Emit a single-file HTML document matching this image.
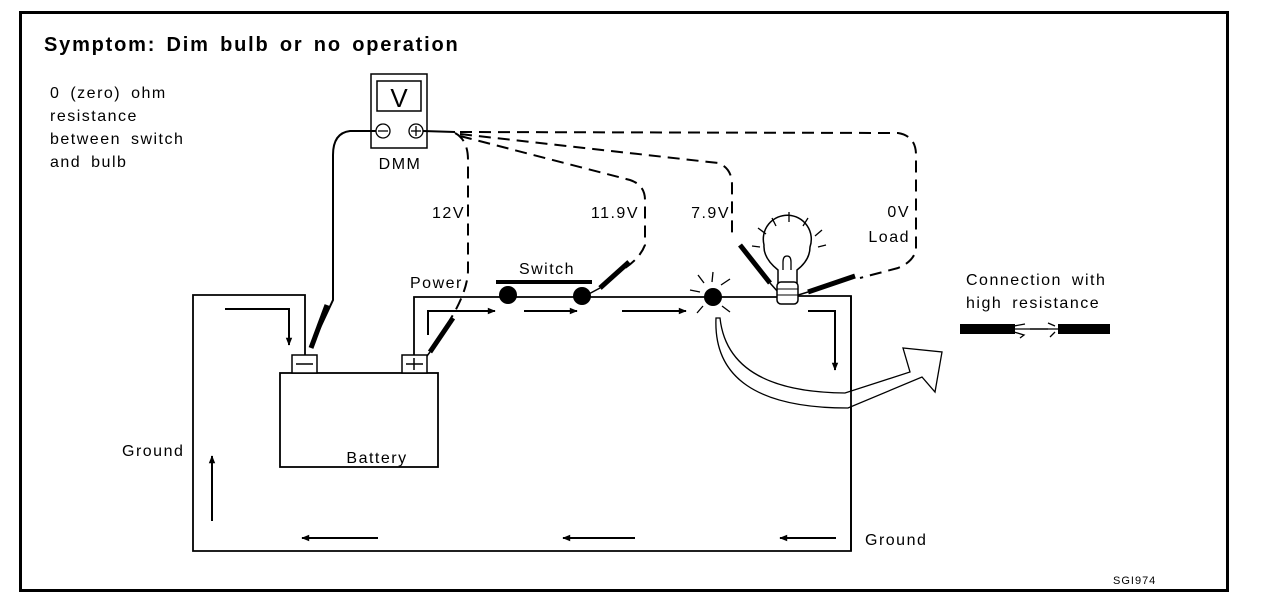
<!DOCTYPE html>
<html><head><meta charset="utf-8"><style>
html,body{margin:0;padding:0;background:#fff}
svg{display:block}
text{font-family:"Liberation Sans",Arial,sans-serif;fill:#000;font-size:16px;letter-spacing:1.5px;word-spacing:4px}
</style></head><body>
<svg width="1280" height="604" viewBox="0 0 1280 604" xmlns="http://www.w3.org/2000/svg">
<defs>
<marker id="ah" viewBox="0 0 10 10" refX="9" refY="5" markerWidth="10" markerHeight="8" orient="auto" markerUnits="userSpaceOnUse"><path d="M0,1 L10,5 L0,9 Z" fill="#000"/></marker>
</defs>
<rect x="20.5" y="12.5" width="1207" height="578" fill="none" stroke="#000" stroke-width="3"/>
<text x="44" y="51" style="font-size:20px;letter-spacing:1.8px;word-spacing:3px" font-weight="bold">Symptom: Dim bulb or no operation</text>
<text x="50" y="98">0 (zero) ohm</text>
<text x="50" y="121">resistance</text>
<text x="50" y="144">between switch</text>
<text x="50" y="167">and bulb</text>

<!-- DMM -->
<rect x="371" y="74" width="56" height="74" fill="#fff" stroke="#000" stroke-width="1.5"/>
<rect x="377" y="81" width="44" height="30" fill="none" stroke="#000" stroke-width="1.5"/>
<text x="399" y="107" style="font-size:26px;letter-spacing:0" text-anchor="middle">V</text>
<circle cx="383" cy="131" r="7" fill="none" stroke="#000" stroke-width="1.3"/>
<line x1="378" y1="131" x2="388" y2="131" stroke="#000" stroke-width="1.3"/>
<circle cx="416" cy="131" r="7" fill="none" stroke="#000" stroke-width="1.3"/>
<line x1="411" y1="131" x2="421" y2="131" stroke="#000" stroke-width="1.3"/>
<line x1="416" y1="126" x2="416" y2="136" stroke="#000" stroke-width="1.3"/>
<text x="400" y="169" text-anchor="middle">DMM</text>

<!-- negative lead -->
<path d="M376,131 L350,131 Q333,133 333,155 L333,300 L312,345" fill="none" stroke="#000" stroke-width="2"/>
<path d="M327,305 L311,348" stroke="#000" stroke-width="5"/>
<!-- positive leads -->
<path d="M423,131 L455,132" stroke="#000" stroke-width="2"/>
<g fill="none" stroke="#000" stroke-width="2" stroke-dasharray="12,7">
<path d="M455,133 Q468,140 468,160 L468,270 Q468,290 450,320"/>
<path d="M460,136 L630,180 Q645,185 645,200 L645,245 Q640,258 625,268"/>
<path d="M460,134 L718,163 Q732,168 732,185 L732,238"/>
<path d="M460,132 L898,133 Q916,136 916,155 L916,250 Q913,262 898,268 L860,278"/>
</g>
<path d="M453,318 L430,352" stroke="#000" stroke-width="5"/>
<path d="M629,262 L600,288" stroke="#000" stroke-width="5"/>
<path d="M740,245 L770,283" stroke="#000" stroke-width="5"/>
<path d="M855,276 L808,292" stroke="#000" stroke-width="5"/>
<path d="M600,288 L585,296 M770,283 L778,292 M808,292 L795,296 M430,352 L427,356" stroke="#000" stroke-width="1.5"/>
<text x="465" y="218" text-anchor="end">12V</text>
<text x="639" y="218" text-anchor="end">11.9V</text>
<text x="730" y="218" text-anchor="end">7.9V</text>
<text x="910" y="217" text-anchor="end">0V</text>
<text x="910" y="242" text-anchor="end">Load</text>

<!-- circuit wires -->
<g fill="none" stroke="#000" stroke-width="1.8">
<path d="M305,355 L305,295 L193,295 L193,551 L851,551 L851,296 L795,296"/>
<path d="M414,355 L414,297 L777,297"/>
</g>
<!-- battery -->
<rect x="280" y="373" width="158" height="94" fill="#fff" stroke="#000" stroke-width="1.8"/>
<rect x="292" y="355" width="25" height="18" fill="#fff" stroke="#000" stroke-width="1.5"/>
<line x1="296" y1="364" x2="313" y2="364" stroke="#000" stroke-width="1.5"/>
<rect x="402" y="355" width="25" height="18" fill="#fff" stroke="#000" stroke-width="1.5"/>
<line x1="406" y1="364" x2="423" y2="364" stroke="#000" stroke-width="1.5"/>
<line x1="414" y1="358" x2="414" y2="370" stroke="#000" stroke-width="1.5"/>
<text x="377" y="463" text-anchor="middle">Battery</text>
<text x="410" y="288">Power</text>
<text x="547" y="274" text-anchor="middle">Switch</text>
<rect x="496" y="280" width="96" height="4" fill="#000"/>
<circle cx="508" cy="295" r="9" fill="#000"/>
<circle cx="582" cy="296" r="9" fill="#000"/>
<circle cx="713" cy="297" r="9" fill="#000"/>

<!-- flow arrows -->
<g fill="none" stroke="#000" stroke-width="2">
<path d="M225,309 L289,309 L289,345" marker-end="url(#ah)"/>
<path d="M428,335 L428,311 L495,311" marker-end="url(#ah)"/>
<path d="M524,311 L577,311" marker-end="url(#ah)"/>
<path d="M622,311 L686,311" marker-end="url(#ah)"/>
<path d="M808,311 L835,311 L835,370" marker-end="url(#ah)"/>
<path d="M212,521 L212,456" marker-end="url(#ah)"/>
<path d="M378,538 L302,538" marker-end="url(#ah)"/>
<path d="M635,538 L563,538" marker-end="url(#ah)"/>
<path d="M836,538 L780,538" marker-end="url(#ah)"/>
</g>
<!-- spark lines -->
<g stroke="#000" stroke-width="1.3">
<line x1="704" y1="283" x2="698" y2="275"/><line x1="712" y1="282" x2="713" y2="272"/><line x1="721" y1="285" x2="730" y2="279"/>
<line x1="700" y1="292" x2="690" y2="290"/><line x1="703" y1="306" x2="697" y2="313"/><line x1="722" y1="306" x2="730" y2="312"/>
</g>
<!-- big curved arrow -->
<path d="M720,318 Q728,392 845,393 L910,372 L903,348 L942,352 L935,392 L922,377 L848,408 Q712,408 716,318 Z" fill="#fff" stroke="#000" stroke-width="1.3"/>
<line x1="851" y1="296" x2="851" y2="551" stroke="#000" stroke-width="1.8"/>

<!-- bulb -->
<path d="M778,283 L778,270 Q763,258 764,245 A24,24 0 1 1 810,247 Q810,260 797,270 L797,283" fill="#fff" stroke="#000" stroke-width="1.5"/>
<path d="M783,270 L783,262 Q783,256 787,256 Q791,256 791,262 L791,270" fill="none" stroke="#000" stroke-width="1.3"/>
<rect x="777" y="282" width="21" height="22" rx="4" fill="#fff" stroke="#000" stroke-width="1.5"/>
<path d="M777,289 L798,289 M777,295 L798,295" stroke="#000" stroke-width="1"/>
<g stroke="#000" stroke-width="1.3">
<line x1="789" y1="212" x2="789" y2="222"/><line x1="772" y1="218" x2="776" y2="226"/><line x1="808" y1="218" x2="803" y2="226"/>
<line x1="758" y1="228" x2="766" y2="234"/><line x1="822" y1="230" x2="815" y2="236"/><line x1="752" y1="246" x2="760" y2="247"/><line x1="818" y1="247" x2="826" y2="245"/>
</g>

<text x="966" y="285">Connection with</text>
<text x="966" y="308">high resistance</text>
<rect x="960" y="324" width="55" height="10" fill="#000"/>
<path d="M1015,329 L1030,329 M1014,326 L1025,324 M1014,332 L1024,335 L1020,338" stroke="#000" stroke-width="1.3" fill="none"/>
<line x1="1030" y1="329" x2="1048" y2="329" stroke="#000" stroke-width="1.5"/>
<path d="M1048,329 L1058,329 M1055,326 L1048,323 M1055,332 L1050,337" stroke="#000" stroke-width="1.3" fill="none"/>
<rect x="1058" y="324" width="52" height="10" fill="#000"/>

<text x="122" y="456">Ground</text>
<text x="865" y="545">Ground</text>
<text x="1113" y="584" style="font-size:11px;letter-spacing:1px">SGI974</text>
</svg>
</body></html>
